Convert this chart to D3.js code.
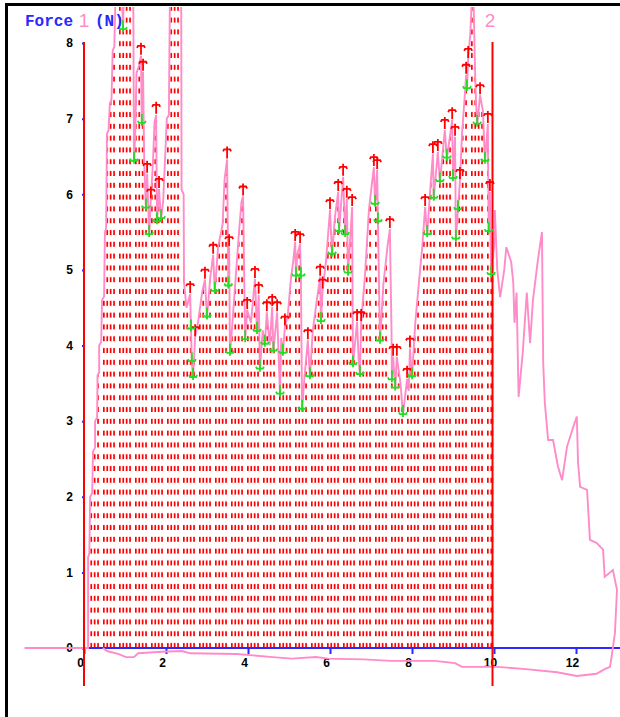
<!DOCTYPE html>
<html>
<head>
<meta charset="utf-8">
<script src="https://cdn.jsdelivr.net/npm/d3@7"></script>
<style>
  body { margin: 0; background: #fff; }
  svg { display: block; }
</style>
</head>
<body>
<svg id="chart"></svg>
<script>
// axis ticks
var xTicks = [0, 2, 4, 6, 8, 10, 12];
var yTicks = [0, 1, 2, 3, 4, 5, 6, 7, 8];

// cursors (time, s)
var cursors = [0, 10];

// force trace (s, N), drawn in this order
var traceLead = [[-1.45,0],[0.1,0]];
var traceRise = [[0.1,1.2],[0.13,1.25],[0.15,2.0],[0.2,2.05],[0.22,2.6],[0.27,2.65],[0.27,3.0],[0.32,3.05],[0.33,3.6],[0.37,3.65],[0.37,4.0],[0.42,4.05],[0.44,4.6],[0.49,4.65],[0.51,5.5],[0.54,5.55],[0.56,6.8],[0.6,6.85],[0.63,7.2],[0.67,7.25],[0.7,7.9],[0.74,7.95],[0.78,8.9]];
var traceTop = [[0.92,8.9],[0.95,8.17],[0.98,8.9],[1.2,8.9],[1.21,7.6],[1.22,6.43],[1.25,6.8],[1.28,7.6],[1.34,7.7],[1.39,7.83],[1.41,6.93],[1.44,7.62],[1.47,6.4],[1.51,5.81],[1.54,6.27],[1.59,5.46],[1.63,5.93],[1.68,6.4],[1.72,6.95],[1.76,7.05],[1.78,5.63],[1.83,6.07],[1.88,5.67],[1.93,5.9],[1.98,6.5],[2.02,7.0],[2.07,7.05],[2.1,8.9],[2.37,8.9],[2.38,6.06],[2.43,6.0],[2.44,4.83],[2.5,4.5],[2.59,4.68],[2.61,4.21],[2.63,3.78],[2.66,3.57],[2.71,4.11],[2.78,4.3],[2.88,4.7],[2.95,4.87],[3.0,4.37],[3.08,4.9],[3.15,5.2],[3.19,4.71],[3.27,5.3],[3.38,5.6],[3.43,6.2],[3.49,6.46],[3.52,4.78],[3.54,5.3],[3.56,3.89],[3.62,4.3],[3.7,4.9],[3.78,5.5],[3.84,5.9],[3.88,5.97],[3.93,4.07],[3.98,4.47],[4.07,4.3],[4.17,4.88],[4.22,4.18],[4.26,4.67],[4.29,3.68],[4.36,4.2],[4.41,4.01],[4.46,4.44],[4.53,4.0],[4.59,4.51],[4.62,3.92],[4.71,4.44],[4.78,3.35],[4.81,4.1],[4.85,3.89],[4.9,4.25],[4.97,4.4],[5.05,4.9],[5.1,5.1],[5.15,5.37],[5.17,4.91],[5.2,5.2],[5.27,5.34],[5.29,4.91],[5.32,3.15],[5.38,3.6],[5.46,4.07],[5.51,3.58],[5.58,4.2],[5.68,4.6],[5.76,4.91],[5.78,4.31],[5.82,4.74],[5.9,5.1],[6.0,5.79],[6.05,5.2],[6.12,5.7],[6.2,6.03],[6.22,5.5],[6.32,6.23],[6.37,5.46],[6.41,5.94],[6.44,4.95],[6.54,5.83],[6.56,3.74],[6.66,4.31],[6.7,3.8],[6.73,3.61],[6.76,4.31],[6.85,4.9],[6.95,5.8],[7.07,6.36],[7.1,5.86],[7.15,6.32],[7.17,5.63],[7.22,4.05],[7.3,4.8],[7.4,5.3],[7.46,5.54],[7.5,4.2],[7.51,3.54],[7.54,3.85],[7.59,3.43],[7.63,3.85],[7.72,3.5],[7.78,3.08],[7.88,3.56],[7.92,3.4],[7.95,3.96],[8.0,3.58],[8.08,4.3],[8.18,4.9],[8.25,5.3],[8.32,5.83],[8.37,5.46],[8.45,6.1],[8.51,6.53],[8.53,5.94],[8.63,6.56],[8.68,6.16],[8.8,6.85],[8.85,6.47],[8.98,6.98],[9.0,6.2],[9.05,6.76],[9.07,5.4],[9.12,5.79],[9.17,6.19],[9.22,6.8],[9.28,7.25],[9.32,7.58],[9.34,7.39],[9.37,7.79],[9.42,8.1],[9.46,8.6],[9.5,8.6],[9.54,7.6],[9.56,7.25],[9.59,6.92],[9.66,7.31],[9.73,7.1],[9.78,6.43],[9.85,6.93],[9.87,5.5],[9.9,6.03],[9.93,4.93],[10.0,5.3]];
var traceTail = [[10.02,5.79],[10.08,5.0],[10.15,4.64],[10.25,5.0],[10.3,5.3],[10.35,5.22],[10.42,5.1],[10.47,4.83],[10.5,4.3],[10.55,4.7],[10.6,3.32],[10.7,3.9],[10.8,4.7],[10.88,4.03],[10.95,4.6],[11.07,5.13],[11.17,5.5],[11.2,3.77],[11.24,3.24],[11.32,2.75],[11.44,2.75],[11.56,2.4],[11.66,2.22],[11.78,2.66],[11.93,2.92],[12.02,3.06],[12.05,2.45],[12.1,2.13],[12.27,2.09],[12.34,1.43],[12.5,1.39],[12.66,1.3],[12.7,0.94],[12.9,1.03],[13.0,0.77],[12.95,0.2],[12.88,-0.07],[12.83,-0.25]];
var traceReturn = [[12.7,-0.28],[12.5,-0.34],[12.02,-0.37],[11.54,-0.32],[10.78,-0.28],[10.1,-0.25],[9.22,-0.25],[9.05,-0.2],[8.56,-0.17],[7.49,-0.17],[6.82,-0.15],[5.95,-0.14],[5.66,-0.12],[5.07,-0.14],[4.6,-0.12],[3.73,-0.08],[2.59,-0.07],[2.39,-0.04],[1.9,-0.05],[1.32,-0.07],[1.22,-0.12],[1.02,-0.12],[0.85,-0.08],[0.56,-0.04],[0.46,0]];

// detected peaks (red) and valleys (green)
var peaks = [[1.39,7.83],[1.44,7.62],[1.54,6.27],[1.63,5.93],[1.76,7.05],[1.83,6.07],[2.59,4.68],[2.71,4.11],[2.95,4.87],[3.15,5.2],[3.49,6.46],[3.54,5.3],[3.88,5.97],[3.98,4.47],[4.17,4.88],[4.26,4.67],[4.46,4.44],[4.59,4.51],[4.71,4.44],[4.9,4.25],[5.15,5.37],[5.27,5.34],[5.46,4.07],[5.76,4.91],[5.82,4.74],[6.0,5.79],[6.2,6.03],[6.32,6.23],[6.41,5.94],[6.54,5.83],[6.66,4.31],[6.76,4.31],[7.07,6.36],[7.15,6.32],[7.46,5.54],[7.54,3.85],[7.63,3.85],[7.88,3.56],[7.95,3.96],[8.32,5.83],[8.51,6.53],[8.63,6.56],[8.8,6.85],[8.98,6.98],[9.05,6.76],[9.17,6.19],[9.32,7.58],[9.37,7.79],[9.66,7.31],[9.85,6.93],[9.9,6.03]];
var valleys = [[0.95,8.17],[1.22,6.43],[1.41,6.93],[1.51,5.81],[1.59,5.46],[1.78,5.63],[1.88,5.67],[2.61,4.21],[2.63,3.78],[2.66,3.57],[3.0,4.37],[3.19,4.71],[3.52,4.78],[3.56,3.89],[3.93,4.07],[4.22,4.18],[4.29,3.68],[4.41,4.01],[4.62,3.92],[4.78,3.35],[4.85,3.89],[5.17,4.91],[5.29,4.91],[5.32,3.15],[5.51,3.58],[5.78,4.31],[6.05,5.2],[6.22,5.5],[6.37,5.46],[6.44,4.95],[6.56,3.74],[6.73,3.61],[7.1,5.86],[7.17,5.63],[7.22,4.05],[7.51,3.54],[7.59,3.43],[7.78,3.08],[8.0,3.58],[8.37,5.46],[8.53,5.94],[8.68,6.16],[8.85,6.47],[9.0,6.2],[9.07,5.4],[9.12,5.79],[9.34,7.39],[9.59,6.92],[9.78,6.43],[9.87,5.5],[9.93,4.93]];

var W = 620, H = 717;
var pink = "#ff8cc8", blue = "#2828ff", red = "#ff0000", green = "#22dd22";

var svg = d3.select("#chart").attr("width", W).attr("height", H);
svg.append("rect").attr("width", W).attr("height", H).attr("fill", "#fff");

var x = d3.scaleLinear().domain([0, 13]).range([84, 617]);
var y = d3.scaleLinear().domain([0, 8]).range([648, 43]);

var defs = svg.append("defs");
var pat = defs.append("pattern")
  .attr("id", "hatch")
  .attr("patternUnits", "userSpaceOnUse")
  .attr("width", 16).attr("height", 11.8)
  .attr("patternTransform", "translate(87,648)");
[0, 3.4, 6.8, 10.2].forEach(function (dx) {
  pat.append("rect").attr("x", dx).attr("y", 6.8)
    .attr("width", 1.7).attr("height", 5).attr("fill", red);
});

defs.append("clipPath").attr("id", "fillClip").append("rect")
  .attr("x", x(cursors[0])).attr("y", 7)
  .attr("width", x(cursors[1]) - x(cursors[0])).attr("height", y(0) - 7);
defs.append("clipPath").attr("id", "plotClip").append("rect")
  .attr("x", 0).attr("y", 7).attr("width", W).attr("height", H - 7);

// frame (left and top only)
svg.append("line").attr("x1", 6.5).attr("x2", 6.5).attr("y1", 3).attr("y2", H)
  .attr("stroke", "#000").attr("stroke-width", 3);
svg.append("line").attr("x1", 5).attr("x2", W).attr("y1", 4.5).attr("y2", 4.5)
  .attr("stroke", "#000").attr("stroke-width", 3);

// hatched area between the cursors
var fillPts = traceRise.concat(traceTop);
var area = d3.area()
  .x(function (d) { return x(d[0]); })
  .y0(y(0))
  .y1(function (d) { return y(d[1]); });
svg.append("path")
  .datum([[0.1, 0]].concat(fillPts))
  .attr("d", area)
  .attr("fill", "url(#hatch)")
  .attr("clip-path", "url(#fillClip)");

// x axis
svg.append("line").attr("x1", x(0)).attr("x2", W).attr("y1", y(0)).attr("y2", y(0))
  .attr("stroke", blue).attr("stroke-width", 2);
var gx = svg.append("g").attr("transform", "translate(0," + y(0) + ")")
  .call(d3.axisBottom(x).tickValues(xTicks).tickSize(6).tickPadding(4));
gx.select(".domain").remove();
gx.selectAll(".tick line").attr("stroke", blue).attr("stroke-width", 2);
gx.selectAll(".tick text").attr("dx", -4)
  .attr("font-family", "Liberation Sans, Arial, sans-serif")
  .attr("font-weight", "bold").attr("font-size", 12).attr("fill", "#000");

// y axis
var gy = svg.append("g").attr("transform", "translate(" + x(0) + ",0)")
  .call(d3.axisLeft(y).tickValues(yTicks).tickSize(2).tickPadding(9));
gy.select(".domain").remove();
gy.selectAll(".tick line").attr("stroke", blue).attr("stroke-width", 2);
gy.selectAll(".tick text")
  .attr("font-family", "Liberation Sans, Arial, sans-serif")
  .attr("font-weight", "bold").attr("font-size", 12).attr("fill", "#000");

// trace
var line = d3.line()
  .x(function (d) { return x(d[0]); })
  .y(function (d) { return y(d[1]); });
var trace = traceLead.concat(traceRise, traceTop, traceTail, traceReturn);
svg.append("path")
  .datum(trace)
  .attr("d", line)
  .attr("fill", "none")
  .attr("stroke", pink)
  .attr("stroke-width", 1.9)
  .attr("clip-path", "url(#plotClip)");

// cursor lines
svg.selectAll(".cursor")
  .data(cursors)
  .enter().append("line")
  .attr("class", "cursor")
  .attr("x1", function (d, i) { return x(d) - i * 1.5; })
  .attr("x2", function (d, i) { return x(d) - i * 1.5; })
  .attr("y1", 42).attr("y2", 686)
  .attr("stroke", red).attr("stroke-width", 2);

// peak / valley markers
svg.selectAll(".peak")
  .data(peaks)
  .enter().append("path")
  .attr("class", "peak")
  .attr("d", function (d) {
    var cx = x(d[0]), cy = y(d[1]);
    return "M" + (cx - 4) + "," + (cy - 8) + "L" + (cx - 3) + "," + (cy - 10) +
      "L" + (cx + 3) + "," + (cy - 10) + "L" + (cx + 4) + "," + (cy - 8) +
      "M" + cx + "," + (cy - 13) + "V" + (cy - 1);
  })
  .attr("fill", "none").attr("stroke", red).attr("stroke-width", 1.8);

svg.selectAll(".valley")
  .data(valleys)
  .enter().append("path")
  .attr("class", "valley")
  .attr("d", function (d) {
    var cx = x(d[0]), cy = y(d[1]);
    return "M" + (cx - 4) + "," + (cy - 3) + "L" + (cx - 3) + "," + (cy - 1) +
      "L" + (cx + 3) + "," + (cy - 1) + "L" + (cx + 4) + "," + (cy - 3) +
      "M" + cx + "," + (cy + 2) + "V" + (cy - 10);
  })
  .attr("fill", "none").attr("stroke", green).attr("stroke-width", 1.8);

// title and cursor labels
var title = svg.append("g")
  .attr("font-family", "Liberation Mono, Courier New, monospace")
  .attr("font-weight", "bold").attr("font-size", 16).attr("fill", blue);
title.append("text").attr("x", 25).attr("y", 26).text("Force");
title.append("text").attr("x", 95).attr("y", 26).text("(N)");

svg.selectAll(".clabel")
  .data(cursors)
  .enter().append("text")
  .attr("class", "clabel")
  .attr("x", function (d, i) { return i === 0 ? x(d) : x(d) - 4; })
  .attr("y", 27)
  .attr("text-anchor", "middle")
  .attr("font-family", "Liberation Sans, Arial, sans-serif")
  .attr("font-size", 19)
  .attr("fill", pink)
  .text(function (d, i) { return i + 1; });
</script>
</body>
</html>
